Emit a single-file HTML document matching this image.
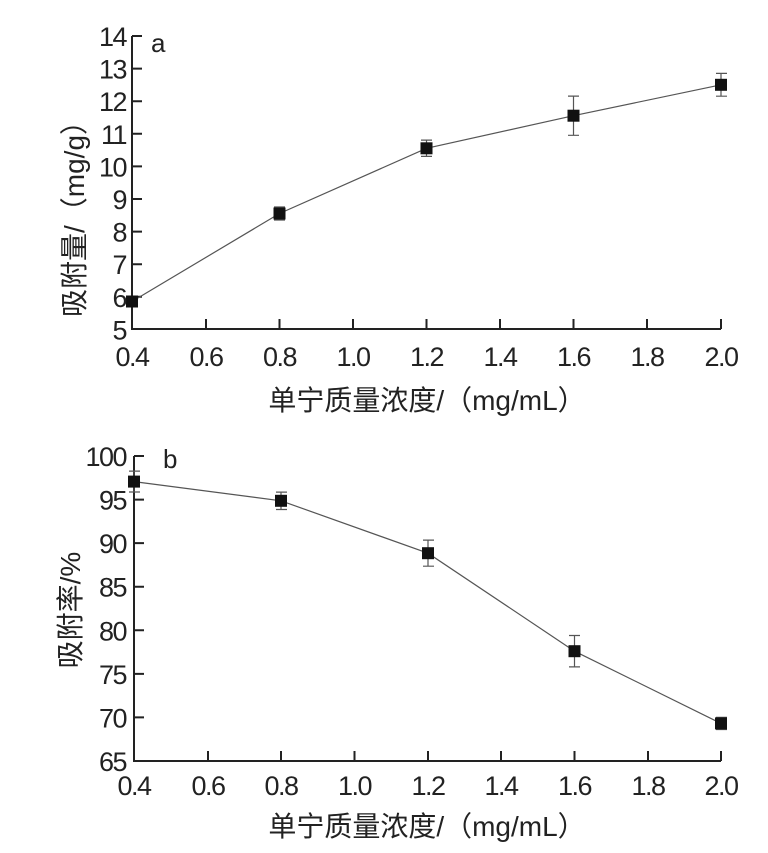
<!DOCTYPE html>
<html><head><meta charset="utf-8"><style>
html,body{margin:0;padding:0;background:#fff}
svg text{font-family:"Liberation Sans","Noto Sans CJK SC",sans-serif;fill:#222}
</style></head><body>
<svg width="768" height="848" viewBox="0 0 768 848" xmlns="http://www.w3.org/2000/svg">
<g stroke="#222" stroke-width="2" fill="none">
<path d="M132 36 V329 H721"/>
<path d="M132 36h10 M132 68.6h10 M132 101.2h10 M132 133.8h10 M132 166.4h10 M132 199h10 M132 231.6h10 M132 264.2h10 M132 296.8h10"/>
<path d="M206 329v-10 M279.5 329v-10 M353 329v-10 M426.5 329v-10 M500 329v-10 M573.5 329v-10 M647 329v-10 M721 329v-10"/>
<path d="M134 456 V761 H721"/>
<path d="M134 456h10 M134 499.6h10 M134 543.1h10 M134 586.7h10 M134 630.3h10 M134 673.9h10 M134 717.4h10"/>
<path d="M208 761v-10 M281 761v-10 M354.5 761v-10 M428 761v-10 M501 761v-10 M574.5 761v-10 M648 761v-10 M721 761v-10"/>
</g>
<g stroke="#555" stroke-width="1.2" fill="none">
<polyline points="132,301.5 279.5,213.5 426.5,148.3 573.5,115.7 721,84.8"/>
<path d="M279.5 207v13 M274 207h11 M274 220h11"/>
<path d="M426.5 140.1v16.3 M421 140.1h11 M421 156.4h11"/>
<path d="M573.5 96.1v39.2 M568 96.1h11 M568 135.3h11"/>
<path d="M721 73.4v22.8 M716 73.4h11 M716 96.2h11"/>
<polyline points="134,481.6 281,500.8 428,553.2 574.5,651.2 721,723.4"/>
<path d="M134 471.1v20.9 M129 471.1h11 M129 492h11"/>
<path d="M281 492.1v17.4 M276 492.1h11 M276 509.5h11"/>
<path d="M428 540.1v26.1 M423 540.1h11 M423 566.2h11"/>
<path d="M574.5 635.5v31.4 M569 635.5h11 M569 666.9h11"/>
<path d="M721 717.3v12.2 M716 717.3h11 M716 729.5h11"/>
</g>
<g fill="#111">
<rect x="126" y="295.5" width="12" height="12"/><rect x="273.5" y="207.5" width="12" height="12"/><rect x="420.5" y="142.3" width="12" height="12"/><rect x="567.5" y="109.7" width="12" height="12"/><rect x="715" y="78.8" width="12" height="12"/>
<rect x="128" y="475.6" width="12" height="12"/><rect x="275" y="494.8" width="12" height="12"/><rect x="422" y="547.2" width="12" height="12"/><rect x="568.5" y="645.2" width="12" height="12"/><rect x="715" y="717.4" width="12" height="12"/>
</g>
<g font-size="27" text-anchor="end" letter-spacing="-1.5">
<text x="126" y="46">14</text><text x="126" y="78.6">13</text><text x="126" y="111.2">12</text><text x="126" y="143.8">11</text><text x="126" y="176.4">10</text><text x="126" y="209">9</text><text x="126" y="241.6">8</text><text x="126" y="274.2">7</text><text x="126" y="306.8">6</text><text x="126" y="339.4">5</text>
<text x="126" y="466">100</text><text x="126" y="509.6">95</text><text x="126" y="553.1">90</text><text x="126" y="596.7">85</text><text x="126" y="640.3">80</text><text x="126" y="683.9">75</text><text x="126" y="727.4">70</text><text x="126" y="771">65</text>
</g>
<g font-size="27" text-anchor="middle" letter-spacing="-1.5">
<text x="132" y="366">0.4</text><text x="206" y="366">0.6</text><text x="279.5" y="366">0.8</text><text x="353" y="366">1.0</text><text x="426.5" y="366">1.2</text><text x="500" y="366">1.4</text><text x="573.5" y="366">1.6</text><text x="647" y="366">1.8</text><text x="721" y="366">2.0</text>
<text x="134" y="795">0.4</text><text x="208" y="795">0.6</text><text x="281" y="795">0.8</text><text x="354.5" y="795">1.0</text><text x="428" y="795">1.2</text><text x="501" y="795">1.4</text><text x="574.5" y="795">1.6</text><text x="648" y="795">1.8</text><text x="721" y="795">2.0</text>
</g>
<g font-size="28" text-anchor="middle">
<text x="427" y="410">单宁质量浓度/（mg/mL）</text>
<text x="427" y="836">单宁质量浓度/（mg/mL）</text>
<text transform="translate(84,212) rotate(-90)">吸附量/（mg/g）</text>
<text transform="translate(80,610) rotate(-90)">吸附率/%</text>
</g>
<text x="151" y="52" font-size="26">a</text>
<text x="163" y="468" font-size="26">b</text>
</svg>
</body></html>
